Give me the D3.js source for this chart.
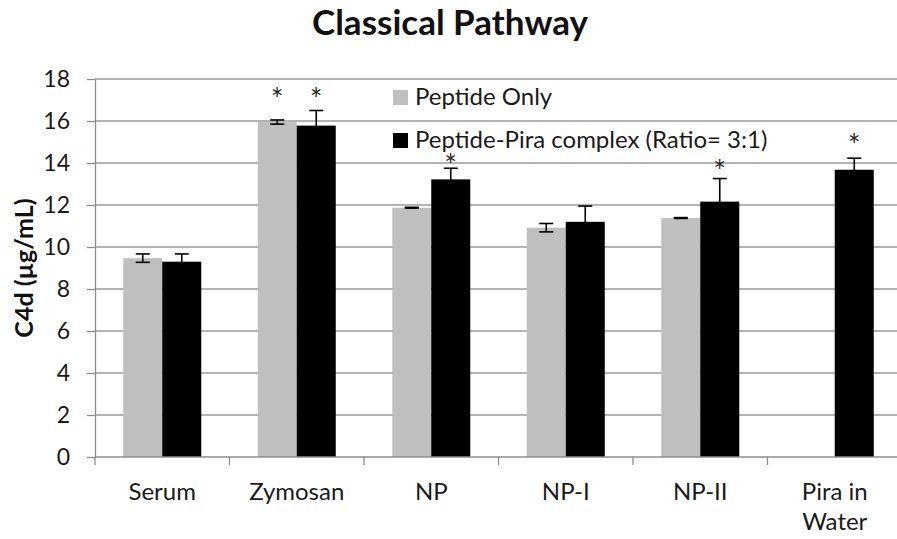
<!DOCTYPE html>
<html>
<head>
<meta charset="utf-8">
<script src="https://cdn.jsdelivr.net/npm/d3@7"></script>
<style>
  html, body { margin: 0; padding: 0; background: #fff; }
  svg { display: block; font-family: Lato, "Open Sans", sans-serif; }
</style>
</head>
<body>
<svg id="chart" width="897" height="539"></svg>
<script>
// Categories and series
const categories = ["Serum", "Zymosan", "NP", "NP-I", "NP-II", "Pira in\nWater"];
const seriesNames = ["Peptide Only", "Peptide-Pira complex (Ratio= 3:1)"];

// C4d concentration (µg/mL), mean and error for each series (null = not measured)
const peptideOnly      = [9.47, 15.95, 11.87, 10.92, 11.38, null];
const peptideOnlyErr   = [0.20, 0.10, 0.02, 0.20, 0.02, null];
const peptidePira      = [9.30, 15.78, 13.22, 11.20, 12.16, 13.68];
const peptidePiraErr   = [0.37, 0.72, 0.53, 0.75, 1.10, 0.55];

// Significance markers: y level of each asterisk (null = none)
const peptideOnlyStar  = [null, 17.25, null, null, null, null];
const peptidePiraStar  = [null, 17.25, 14.1, null, 13.8, 15.05];

const yTicks = [0, 2, 4, 6, 8, 10, 12, 14, 16, 18];
const seriesColors = ["#bfbfbf", "#000000"];

const svg = d3.select("#chart");
const plot = { left: 95, right: 902, top: 79, bottom: 457 };

const y = d3.scaleLinear().domain([0, 18]).range([plot.bottom, plot.top]);
const x0 = d3.scaleBand().domain(categories).range([plot.left, plot.right]).padding(0);
const bw = x0.bandwidth();
const x1 = d3.scaleBand().domain(seriesNames).range([bw * 0.21, bw * 0.79]).padding(0);

// Title
svg.append("text")
  .attr("x", 450).attr("y", 35)
  .attr("text-anchor", "middle")
  .attr("font-size", 35).attr("font-weight", "bold")
  .attr("fill", "#111")
  .text("Classical Pathway");

// Horizontal gridlines
svg.append("g").selectAll("line")
  .data(yTicks.filter(d => d > 0))
  .join("line")
  .attr("x1", plot.left).attr("x2", plot.right)
  .attr("y1", d => y(d)).attr("y2", d => y(d))
  .attr("stroke", "#9a9a9a").attr("stroke-width", 1.3);

// Y axis
const yAxis = svg.append("g")
  .attr("transform", `translate(${plot.left},0)`)
  .call(d3.axisLeft(y).tickValues(yTicks).tickSize(8).tickPadding(17).tickSizeOuter(0));
yAxis.select(".domain").attr("stroke", "#8c8c8c").attr("stroke-width", 1.3);
yAxis.selectAll(".tick line").attr("stroke", "#8c8c8c").attr("stroke-width", 1.3);
yAxis.selectAll(".tick text")
  .attr("font-size", 23).attr("font-family", "Lato, sans-serif").attr("fill", "#1a1a1a");

// Y axis title
svg.append("text")
  .attr("transform", `translate(33,${(plot.top + plot.bottom) / 2}) rotate(-90)`)
  .attr("text-anchor", "middle")
  .attr("font-size", 25).attr("font-weight", "bold").attr("fill", "#111")
  .text("C4d (µg/mL)");

// Bars
const rows = categories.map((c, i) => ({
  cat: c,
  vals: [
    { s: seriesNames[0], v: peptideOnly[i], e: peptideOnlyErr[i], star: peptideOnlyStar[i], color: seriesColors[0] },
    { s: seriesNames[1], v: peptidePira[i], e: peptidePiraErr[i], star: peptidePiraStar[i], color: seriesColors[1] }
  ]
}));

const groups = svg.append("g").selectAll("g")
  .data(rows)
  .join("g")
  .attr("transform", d => `translate(${x0(d.cat)},0)`);

groups.selectAll("rect")
  .data(d => d.vals.filter(v => v.v != null))
  .join("rect")
  .attr("x", d => x1(d.s))
  .attr("width", x1.bandwidth())
  .attr("y", d => y(d.v))
  .attr("height", d => y(0) - y(d.v))
  .attr("fill", d => d.color);

// Error bars
const errs = groups.selectAll("g.err")
  .data(d => d.vals.filter(v => v.v != null))
  .join("g").attr("class", "err")
  .attr("transform", d => `translate(${x1(d.s) + x1.bandwidth() / 2},0)`);
const capW = 7;
errs.append("line")
  .attr("y1", d => y(d.v - d.e)).attr("y2", d => y(d.v + d.e))
  .attr("stroke", "#000").attr("stroke-width", 1.6);
errs.append("line")
  .attr("x1", -capW).attr("x2", capW)
  .attr("y1", d => y(d.v + d.e)).attr("y2", d => y(d.v + d.e))
  .attr("stroke", "#000").attr("stroke-width", 1.6);
errs.append("line")
  .attr("x1", -capW).attr("x2", capW)
  .attr("y1", d => y(d.v - d.e)).attr("y2", d => y(d.v - d.e))
  .attr("stroke", "#000").attr("stroke-width", 1.6);

// Asterisks
const starSize = 30;
groups.selectAll("text.star")
  .data(d => d.vals.filter(v => v.star != null))
  .join("text").attr("class", "star")
  .attr("x", d => x1(d.s) + x1.bandwidth() / 2)
  .attr("y", d => y(d.star) + starSize * 0.5)
  .attr("text-anchor", "middle")
  .attr("font-size", starSize).attr("fill", "#2a2a2a")
  .text("*");

// X axis
const xAxis = svg.append("g")
  .attr("transform", `translate(0,${plot.bottom})`);
xAxis.append("line")
  .attr("x1", plot.left).attr("x2", plot.right)
  .attr("stroke", "#8c8c8c").attr("stroke-width", 1.3);
xAxis.selectAll("line.tk")
  .data(categories)
  .join("line").attr("class", "tk")
  .attr("x1", d => x0(d)).attr("x2", d => x0(d))
  .attr("y1", 0).attr("y2", 8)
  .attr("stroke", "#8c8c8c").attr("stroke-width", 1.3);
const xl = xAxis.selectAll("text")
  .data(categories)
  .join("text")
  .attr("x", d => x0(d) + bw / 2)
  .attr("y", 43)
  .attr("text-anchor", "middle")
  .attr("font-size", 24).attr("fill", "#1a1a1a");
xl.selectAll("tspan")
  .data(d => d.split("\n"))
  .join("tspan")
  .attr("x", function () { return d3.select(this.parentNode).attr("x"); })
  .attr("dy", (d, i) => i === 0 ? 0 : 30)
  .text(d => d);

// Legend
const legend = svg.append("g").attr("transform", "translate(393,90)");
const li = legend.selectAll("g")
  .data(seriesNames)
  .join("g")
  .attr("transform", (d, i) => `translate(0,${i * 43})`);
li.append("rect")
  .attr("width", 15).attr("height", 15)
  .attr("fill", (d, i) => seriesColors[i]);
li.append("text")
  .attr("x", 22).attr("y", 15)
  .attr("font-size", 24).attr("fill", "#1a1a1a")
  .text(d => d);
</script>
</body>
</html>
